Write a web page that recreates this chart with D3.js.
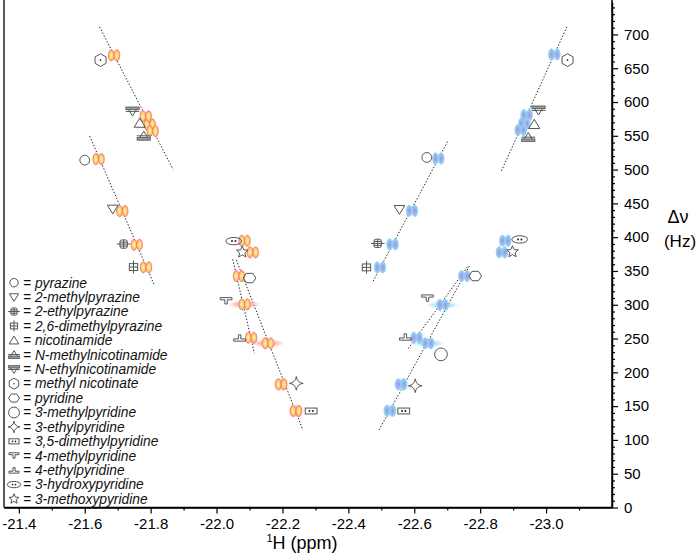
<!DOCTYPE html>
<html><head><meta charset="utf-8">
<script src="https://cdn.jsdelivr.net/npm/d3@7/dist/d3.min.js"></script>
<style>
html,body{margin:0;padding:0;background:#fff;}
svg{display:block;font-family:"Liberation Sans",Arial,Helvetica,sans-serif;}
</style></head>
<body><svg id="chart" width="698" height="554"></svg>
<script>
// ---------- data ----------
const compounds = ["pyrazine","2-methylpyrazine","2-ethylpyrazine","2,6-dimethylpyrazine","nicotinamide",
  "N-methylnicotinamide","N-ethylnicotinamide","methyl nicotinate","pyridine","3-methylpyridine",
  "3-ethylpyridine","3,5-dimethylpyridine","4-methylpyridine","4-ethylpyridine","3-hydroxypyridine","3-methoxypyridine"];
const symbolTypes = ["circle","triDown","ethylPz","dimethylPz","triUp","triUpBar","triDownBar","hexDot",
  "hexFlat","bigCircle","star4","boxDots","tee","teeInv","ellipseDots","star5"];

// hydride A (orange, left) : chemical shift (ppm) and frequency difference (Hz)
const hydA_ppm = [-21.642,-21.714,-21.758,-21.786,-21.797,-21.806,-21.785,-21.689,-22.068,-22.156,-22.196,-22.241,-22.085,-22.105,-22.085,-22.110];
const hydA_hz  = [515.5,438.6,388.8,355.3,567,557,579,669,342.5,242.9,182.2,142.8,300.6,251.2,394.7,377.5];
// hydride B (blue, right)
const hydB_ppm = [-22.673,-22.593,-22.534,-22.496,-22.934,-22.923,-22.941,-23.025,-22.752,-22.642,-22.560,-22.526,-22.686,-22.607,-22.876,-22.866];
const hydB_hz  = [516.5,439,389.3,355.3,568.3,558.4,580.6,670.4,342.5,243,182.2,143.2,299.6,251.2,394.7,377.5];

// identifying symbol positions (data units), null = not shown
const symA_ppm = [-21.600,-21.685,-21.718,-21.748,-21.767,-21.779,-21.745,-21.648,-22.100,null,-22.242,-22.287,-22.029,-22.070,-22.052,-22.078];
const symA_hz  = [514,441.6,389.8,355.8,568.8,549.6,586.5,662,339.5,null,183.7,142.8,305.5,251.2,394.2,378];
const symB_ppm = [-22.638,-22.555,-22.489,-22.455,-22.964,-22.946,-22.977,-23.065,-22.785,-22.681,-22.603,-22.568,-22.640,-22.573,-22.920,-22.898];
const symB_hz  = [518,441,390.8,355.3,566.9,547.6,588,662,342.5,226.6,180.2,142.8,309.5,252.7,396.7,378.4];

// broadened signals
const broadWide  = ["4-methylpyridine","3-methylpyridine"];
const broadRound = ["3-ethylpyridine","3,5-dimethylpyridine"];

// dotted correlation lines (data units)
const lineX1 = [-21.645,-21.615,-22.049,-22.060,-22.701,-22.767,-22.761,-23.063];
const lineY1 = [711.2,549.6,367.2,366.1,541.4,357.2,355.8,711.2];
const lineX2 = [-21.868,-21.812,-22.115,-22.262,-22.474,-22.492,-22.580,-22.863];
const lineY2 = [500.3,328.1,228.1,114.6,334.0,113.6,234.0,496.7];

const xMajor = [-21.4,-21.6,-21.8,-22.0,-22.2,-22.4,-22.6,-22.8,-23.0];
const xMinor = [-21.5,-21.7,-21.9,-22.1,-22.3,-22.5,-22.7,-22.9,-23.1];
const yMajor = [0,50,100,150,200,250,300,350,400,450,500,550,600,650,700];
const yMinor = d3.range(0,750,10).filter(v=>v%50!==0);

// ---------- chart ----------
const svg = d3.select("#chart");
const x = d3.scaleLinear().domain([-21.355,-23.2]).range([4,612]);
const y = d3.scaleLinear().domain([0,748]).range([507.5,2]);

const defs = svg.append("defs");
function radial(id, stops){
  const g = defs.append("radialGradient").attr("id",id);
  stops.forEach(s=>g.append("stop").attr("offset",s[0]).attr("stop-color",s[1]).attr("stop-opacity",s[2]===undefined?1:s[2]));
}
radial("gA",[[0,"#fff3a0"],[0.5,"#ffdb7e"],[0.85,"#fbb070"],[1,"#f58a70"]]);
radial("gB",[[0,"#9494e4"],[0.5,"#a4aeea"],[0.85,"#98cdf0"],[1,"#7fcff2"]]);
radial("hA",[[0,"#f48c8c",1],[0.55,"#f6a8a8",0.75],[1,"#fbd8d8",0]]);
radial("hB",[[0,"#7ccff2",1],[0.55,"#a0def6",0.75],[1,"#d8f1fb",0]]);

// axes
const gx = svg.append("g").attr("transform","translate(0,507.5)");
gx.call(d3.axisBottom(x).tickValues(xMajor).tickSize(6).tickPadding(5).tickSizeOuter(0).tickFormat(d3.format(".1f")));
const gxm = svg.append("g").attr("transform","translate(0,507.5)");
gxm.call(d3.axisBottom(x).tickValues(xMinor).tickSize(3).tickSizeOuter(0).tickFormat(""));
const gy = svg.append("g").attr("transform","translate(612,0)");
gy.call(d3.axisRight(y).tickValues(yMajor).tickSize(6).tickPadding(6).tickSizeOuter(0));
const gym = svg.append("g").attr("transform","translate(612,0)");
gym.call(d3.axisRight(y).tickValues(yMinor).tickSize(3).tickSizeOuter(0).tickFormat(""));
[gx,gxm,gy,gym].forEach(g=>{
  g.selectAll("path.domain").attr("stroke","#000").attr("stroke-width",1.5);
  g.selectAll(".tick line").attr("stroke","#000").attr("stroke-width",1.2);
  g.selectAll("text").attr("font-size",15).attr("fill","#000").attr("font-family","'Liberation Sans',Arial,sans-serif");
});
gx.selectAll("text").text(d=>d3.format(".1f")(d).replace("−","-"));
gy.select("path.domain").attr("d","M0,507.5V0");
gx.select("path.domain").attr("d","M4,0H612");
svg.append("line").attr("x1",4).attr("x2",4).attr("y1",0).attr("y2",507.5).attr("stroke","#222").attr("stroke-width",1.5);

// axis titles
const xt = svg.append("text").attr("x",302).attr("y",549).attr("text-anchor","middle").attr("font-size",18);
xt.append("tspan").attr("font-size",11).attr("dy",-7).text("1");
xt.append("tspan").attr("dy",7).text("H (ppm)");
svg.append("text").attr("x",678).attr("y",223).attr("text-anchor","middle").attr("font-size",18).text("Δν");
svg.append("text").attr("x",680).attr("y",247).attr("text-anchor","middle").attr("font-size",17).text("(Hz)");

// dotted lines
svg.append("g").selectAll("line").data(lineX1.map((v,i)=>i)).join("line")
  .attr("x1",i=>x(lineX1[i])).attr("y1",i=>y(lineY1[i]))
  .attr("x2",i=>x(lineX2[i])).attr("y2",i=>y(lineY2[i]))
  .attr("stroke","#222").attr("stroke-width",1).attr("stroke-dasharray","1.4,1.8");

// symbol drawing
const SC = "#555";
function drawSymbol(g, type, s){
  const p = (d)=>g.append("path").attr("d",d).attr("fill","none").attr("stroke",SC).attr("stroke-width",1);
  const poly = (pts)=>"M"+pts.map(q=>q[0].toFixed(2)+","+q[1].toFixed(2)).join("L")+"Z";
  switch(type){
    case "circle": g.append("circle").attr("r",s).attr("fill","none").attr("stroke",SC); break;
    case "bigCircle": g.append("circle").attr("r",s*1.3).attr("fill","none").attr("stroke",SC); break;
    case "triDown": p(poly([[-s*1.1,-s*0.8],[s*1.1,-s*0.8],[0,s*1.0]])); break;
    case "triUp": p(poly([[0,-s*1.05],[s*1.15,s*0.85],[-s*1.15,s*0.85]])); break;
    case "triUpBar":
      p(poly([[0,-s*1.0],[s*0.95,s*0.55],[-s*0.95,s*0.55]]));
      g.append("rect").attr("x",-s*1.35).attr("y",s*0.3).attr("width",s*2.7).attr("height",s*0.55).attr("fill","#999").attr("stroke",SC).attr("stroke-width",0.8);
      p(`M${-s*1.4},${-s*0.05}H${s*1.4}`); break;
    case "triDownBar":
      p(poly([[-s*0.95,-s*0.55],[s*0.95,-s*0.55],[0,s*1.0]]));
      g.append("rect").attr("x",-s*1.35).attr("y",-s*0.85).attr("width",s*2.7).attr("height",s*0.55).attr("fill","#999").attr("stroke",SC).attr("stroke-width",0.8);
      p(`M${-s*1.4},${s*0.05}H${s*1.4}`); break;
    case "ethylPz":
      g.append("rect").attr("x",-s*0.75).attr("y",-s*0.85).attr("width",s*1.5).attr("height",s*1.7).attr("rx",s*0.4).attr("fill","none").attr("stroke",SC);
      p(`M${-s*1.4},0H${s*1.4}M0,${-s*0.85}V${s*0.85}M${-s*0.75},${-s*0.4}H${s*0.75}M${-s*0.75},${s*0.4}H${s*0.75}`); break;
    case "dimethylPz":
      g.append("rect").attr("x",-s*0.85).attr("y",-s*0.7).attr("width",s*1.7).attr("height",s*1.4).attr("fill","none").attr("stroke",SC);
      p(`M0,${-s*1.3}V${s*1.3}M${-s*0.85},0H${s*0.85}`); break;
    case "hexDot": {
      const r=s*1.3; p(poly(d3.range(6).map(k=>[r*Math.cos(Math.PI/2+k*Math.PI/3), r*Math.sin(Math.PI/2+k*Math.PI/3)])));
      g.append("circle").attr("r",s*0.18).attr("fill","#222"); break; }
    case "hexFlat": {
      const r=s*1.3; p(poly(d3.range(6).map(k=>[r*Math.cos(k*Math.PI/3), r*0.85*Math.sin(k*Math.PI/3)]))); break; }
    case "star4": {
      const r=s*1.4, c=s*0.15;
      p(`M0,${-r}Q${c},${-c} ${r},0Q${c},${c} 0,${r}Q${-c},${c} ${-r},0Q${-c},${-c} 0,${-r}Z`); break; }
    case "boxDots":
      g.append("rect").attr("x",-s*1.2).attr("y",-s*0.6).attr("width",s*2.4).attr("height",s*1.2).attr("fill","none").attr("stroke",SC);
      g.append("circle").attr("cx",-s*0.35).attr("r",s*0.2).attr("fill","#222");
      g.append("circle").attr("cx",s*0.35).attr("r",s*0.2).attr("fill","#222"); break;
    case "tee":
      p(poly([[-s*1.2,-s*0.7],[s*1.2,-s*0.7],[s*1.2,-s*0.25],[s*0.25,-s*0.25],[s*0.25,s*0.6],[-s*0.25,s*0.6],[-s*0.25,-s*0.25],[-s*1.2,-s*0.25]])); break;
    case "teeInv":
      p(poly([[-s*1.2,s*0.7],[s*1.2,s*0.7],[s*1.2,s*0.25],[s*0.25,s*0.25],[s*0.25,-s*0.6],[-s*0.25,-s*0.6],[-s*0.25,s*0.25],[-s*1.2,s*0.25]])); break;
    case "ellipseDots":
      g.append("ellipse").attr("rx",s*1.6).attr("ry",s*0.75).attr("fill","none").attr("stroke",SC);
      g.append("circle").attr("cx",-s*0.35).attr("r",s*0.2).attr("fill","#222");
      g.append("circle").attr("cx",s*0.35).attr("r",s*0.2).attr("fill","#222"); break;
    case "star5": {
      const R=s*1.25, r=R*0.45;
      p(poly(d3.range(10).map(k=>{const a=-Math.PI/2+k*Math.PI/5, rr=k%2?r:R; return [rr*Math.cos(a), rr*Math.sin(a)];}))); break; }
  }
}

// signals
function drawSignals(ppm, hz, grad, halo, edge, sppm, shz){
  const layer = svg.append("g");
  const idx = compounds.map((c,i)=>i);
  layer.selectAll("path.haloW").data(idx.filter(i=>broadWide.includes(compounds[i]))).join("path")
    .attr("d",i=>{const cx=x(ppm[i]), cy=y(hz[i]); return `M${cx-18},${cy}Q${cx},${cy-9} ${cx+18},${cy}Q${cx},${cy+9} ${cx-18},${cy}Z`;})
    .attr("fill",`url(#${halo})`).attr("opacity",0.85);
  layer.selectAll("path.haloR").data(idx.filter(i=>broadRound.includes(compounds[i]))).join("ellipse")
    .attr("cx",i=>x(ppm[i])).attr("cy",i=>y(hz[i])).attr("rx",9).attr("ry",8).attr("fill",`url(#${halo})`).attr("opacity",0.75);
  idx.forEach(i=>{
    [-2.8,2.8].forEach(dx=>{
      layer.append("ellipse").attr("cx",x(ppm[i])+dx).attr("cy",y(hz[i])).attr("rx",2.9).attr("ry",5.6)
        .attr("fill",`url(#${grad})`).attr("stroke",edge).attr("stroke-width",0.9);
    });
  });
  idx.filter(i=>sppm[i]!==null).forEach(i=>{
    const g = svg.append("g").attr("transform",`translate(${x(sppm[i])},${y(shz[i])})`);
    drawSymbol(g, symbolTypes[i], 4.9);
  });
}
drawSignals(hydA_ppm, hydA_hz, "gA", "hA", "#f3826e", symA_ppm, symA_hz);
drawSignals(hydB_ppm, hydB_hz, "gB", "hB", "#82d0f2", symB_ppm, symB_hz);

// legend
const leg = svg.append("g");
compounds.forEach((c,i)=>{
  const cy = 282.7 + i*14.42;
  const g = leg.append("g").attr("transform",`translate(14,${cy})`);
  drawSymbol(g, symbolTypes[i], 4.2);
  leg.append("text").attr("x",23).attr("y",cy+4.8).attr("font-size",13.8).attr("font-style","italic").attr("fill","#111").text("= "+c);
});
</script></body></html>
